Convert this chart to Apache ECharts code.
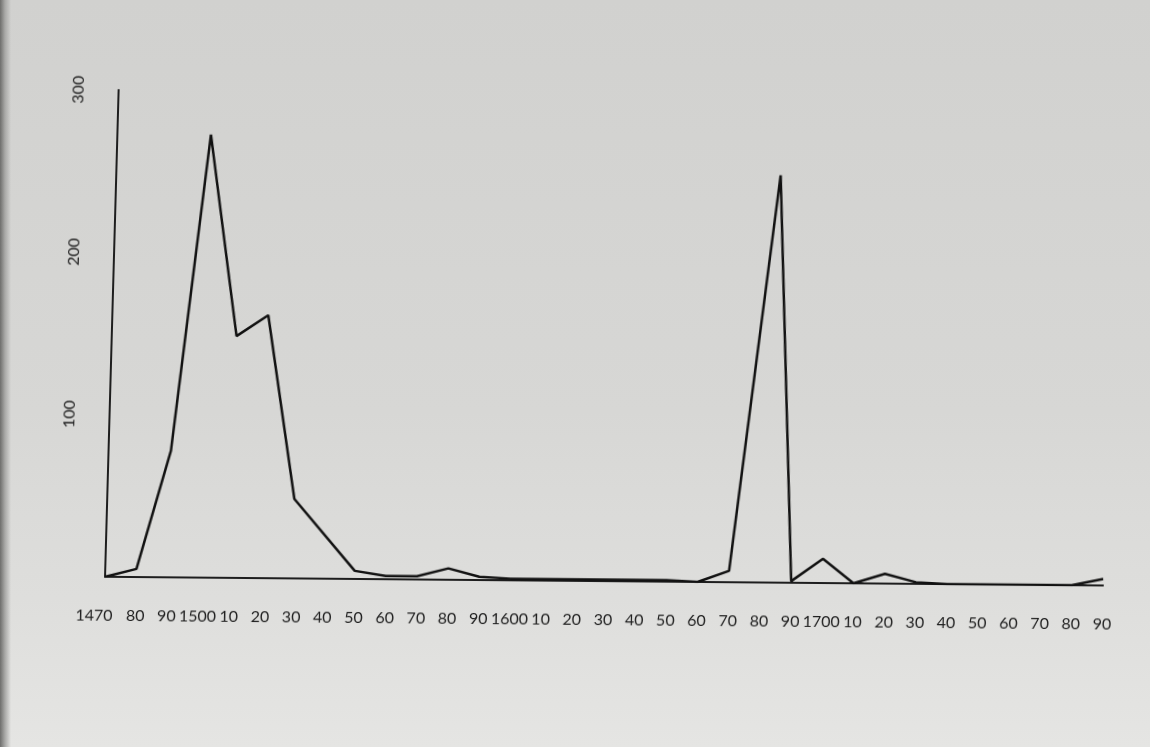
<!DOCTYPE html>
<html>
<head>
<meta charset="utf-8">
<script src="https://cdn.jsdelivr.net/npm/echarts@6/dist/echarts.min.js"></script>
<style>
  html, body { margin: 0; padding: 0; }
  body { width: 1150px; height: 747px; overflow: hidden;
    background:
      linear-gradient(to right, #6e6e6c 0px, #a9a9a7 5px, rgba(210,210,208,0) 11px),
      linear-gradient(to bottom, #d1d1cf 0%, #d7d7d5 55%, #dededc 80%, #e5e5e3 100%); }
  #chart { width: 1150px; height: 747px;
    transform: skewX(-1.6deg) skewY(0.5deg); transform-origin: 105px 577px; }
</style>
</head>
<body>
<div id="chart"></div>
<script>
// Decade ticks and their printed labels
const tickYears = [1470,1480,1490,1500,1510,1520,1530,1540,1550,1560,1570,1580,1590,
                   1600,1610,1620,1630,1640,1650,1660,1670,1680,1690,
                   1700,1710,1720,1730,1740,1750,1760,1770,1780,1790];
const tickLabels = ['1470','80','90','1500','10','20','30','40','50','60','70','80','90',
                    '1600','10','20','30','40','50','60','70','80','90',
                    '1700','10','20','30','40','50','60','70','80','90'];
const yTickLabels = { 100: '100', 200: '200', 300: '300' };

// Series (year, number of cases)
const dataYears = [1470,1480,1490,1500,1510,1520,1530,1550,1560,1570,1580,1590,
                   1600,1610,1620,1630,1640,1650,1660,1670,1683,1690,
                   1700,1710,1720,1730,1740,1750,1760,1770,1780,1790];
const counts    = [0,5,78,273,149,162,49,5,2,2,7,2,
                   1,1,1,1,1,1,0,7,251,1,
                   15,0,6,1,0,0,0,0,0,4];

const chart = echarts.init(document.getElementById('chart'), null, { renderer: 'canvas' });
const font = 'Lato, "Noto Sans", sans-serif';
const ink = '#1e1e1e';
chart.setOption({
  animation: false,
  backgroundColor: 'transparent',
  grid: { left: 105, right: 47, top: 90, bottom: 170, containLabel: false },
  xAxis: {
    type: 'value', min: 1470, max: 1790, interval: 10,
    axisLine: { show: true, onZero: false, lineStyle: { color: ink, width: 2 } },
    axisTick: { show: false },
    splitLine: { show: false },
    axisLabel: {
      margin: 31, color: ink, fontFamily: font, fontSize: 16,
      rich: { first: { fontFamily: font, fontSize: 16, color: ink, padding: [0, 20, 0, 0] } },
      formatter: v => {
        const i = tickYears.indexOf(Math.round(v));
        if (i < 0) return '';
        return i === 0 ? '{first|' + tickLabels[i] + '}' : tickLabels[i];
      }
    }
  },
  yAxis: {
    type: 'value', min: 0, max: 300, interval: 100,
    axisLine: { show: true, lineStyle: { color: ink, width: 2 } },
    axisTick: { show: false },
    splitLine: { show: false },
    axisLabel: {
      rotate: 90, margin: 32, color: ink, fontFamily: font, fontSize: 16,
      formatter: v => yTickLabels[v] || ''
    }
  },
  series: [{
    type: 'line',
    data: dataYears.map((y, i) => [y, counts[i]]),
    symbol: 'none',
    lineStyle: { color: '#111111', width: 2.5 }
  }]
});
</script>
</body>
</html>
